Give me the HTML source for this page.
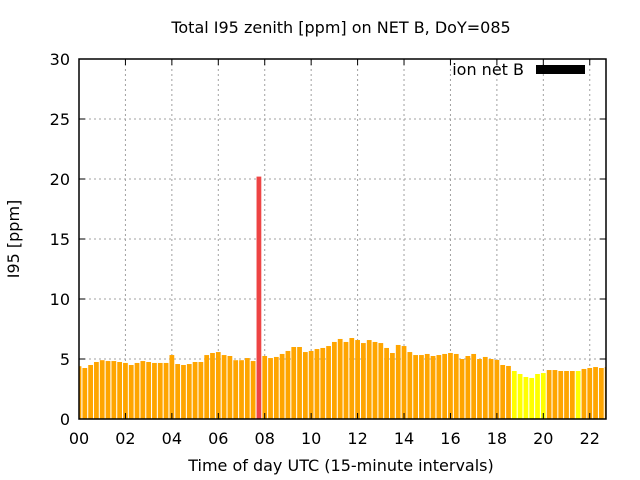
<!DOCTYPE html>
<html><head><meta charset="utf-8"><style>
body{margin:0;background:#fff}
svg{display:block;font-family:"DejaVu Sans","Liberation Sans",sans-serif}
</style></head><body>
<svg id="c" width="640" height="480">
<text x="341" y="33" font-size="16" text-anchor="middle">Total I95 zenith [ppm] on NET B, DoY=085</text>
<text x="341" y="471" font-size="16" text-anchor="middle">Time of day UTC (15-minute intervals)</text>
<text transform="translate(19,239) rotate(-90)" font-size="16" text-anchor="middle">I95 [ppm]</text>
<g id="grid"></g><g id="bars"></g><g id="axes"></g>
<g>
<text x="524" y="75" font-size="16" text-anchor="end">ion net B</text>
<rect x="536" y="65" width="49" height="9" fill="#000"/>
</g>
</svg>
<script>
const values=[4.4,4.25,4.5,4.75,4.9,4.83,4.83,4.75,4.67,4.5,4.67,4.83,4.75,4.67,4.67,4.67,5.33,4.58,4.5,4.58,4.75,4.75,5.33,5.5,5.58,5.33,5.25,4.9,4.9,5.08,4.83,20.2,5.25,5.08,5.17,5.42,5.67,6.0,6.0,5.58,5.67,5.83,5.92,6.08,6.42,6.67,6.42,6.75,6.58,6.33,6.58,6.42,6.33,5.92,5.5,6.17,6.08,5.58,5.33,5.33,5.42,5.25,5.33,5.42,5.5,5.42,5.0,5.25,5.42,5.0,5.17,5.0,4.92,4.5,4.42,4.0,3.75,3.5,3.42,3.75,3.83,4.08,4.08,4.0,4.0,4.0,4.0,4.17,4.25,4.33,4.25,4.33];
const colors=["o","o","o","o","o","o","o","o","o","o","o","o","o","o","o","o","o","o","o","o","o","o","o","o","o","o","o","o","o","o","o","r","o","o","o","o","o","o","o","o","o","o","o","o","o","o","o","o","o","o","o","o","o","o","o","o","o","o","o","o","o","o","o","o","o","o","o","o","o","o","o","o","o","o","o","y","y","y","y","y","y","o","o","o","o","o","y","o","o","o","o","o"];
const yTicks=[0,5,10,15,20,25,30];
const xTicks=["00","02","04","06","08","10","12","14","16","18","20","22"];
const L=79,R=606,T=59,B=419,XMAX=22.7;
const xs=h=>L+h*(R-L)/XMAX, ys=v=>B-v*(B-T)/30;
const NS="http://www.w3.org/2000/svg";
function mk(t,a,p){const e=document.createElementNS(NS,t);for(const k in a)e.setAttribute(k,a[k]);p.appendChild(e);return e;}
const grid=document.getElementById('grid'),bars=document.getElementById('bars'),axes=document.getElementById('axes');
const cmap={o:"#ffa500",y:"#ffff00",r:"#ee4444"};
yTicks.forEach(v=>{const y=ys(v);
 if(v>0&&v<30){const g=mk('line',{x1:L,x2:R,y1:y,y2:y,stroke:"#a0a0a0","stroke-dasharray":"2,3"},grid);
 
 }
 const t=mk('text',{x:L-9,y:y+6,"font-size":16,"text-anchor":"end"},axes);t.textContent=v;
 
 
 mk('line',{x1:L,x2:L+6,y1:y,y2:y,stroke:"#000"},axes);mk('line',{x1:R,x2:R-6,y1:y,y2:y,stroke:"#000"},axes);});
xTicks.forEach(s=>{const x=xs(+s);
 if(+s>0){const g=mk('line',{x1:x,x2:x,y1:T,y2:B,stroke:"#a0a0a0","stroke-dasharray":"2,3"},grid);
 
 }
 const t=mk('text',{x:x,y:444,"font-size":16,"text-anchor":"middle"},axes);t.textContent=s;
 
 
 mk('line',{x1:x,x2:x,y1:B,y2:B-6,stroke:"#000"},axes);mk('line',{x1:x,x2:x,y1:T,y2:T+6,stroke:"#000"},axes);});
const bw=(R-L)/XMAX/4*0.82;
values.forEach((v,i)=>{const cx=xs(i/4);let x0=Math.max(L,cx-bw/2),x1=Math.min(R,cx+bw/2);
 const r=mk('rect',{x:x0,y:ys(v),width:Math.max(0,x1-x0),height:B-ys(v),fill:cmap[colors[i]]},bars);
 
 });
const f=mk('rect',{x:L,y:T,width:R-L,height:B-T,fill:"none",stroke:"#000","stroke-width":1.5},axes);


</script>
</body></html>
